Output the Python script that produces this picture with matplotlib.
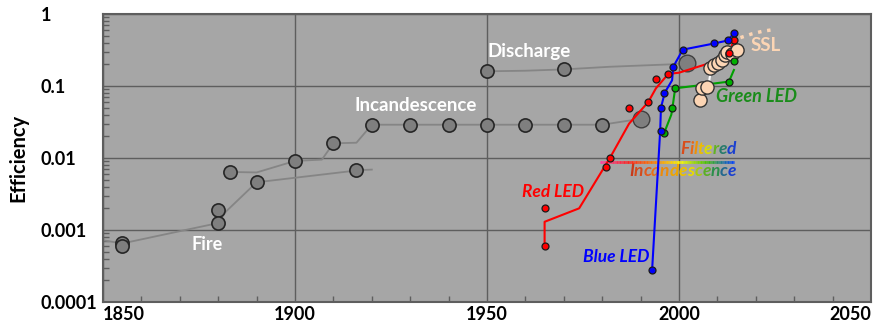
import numpy as np
import matplotlib.pyplot as plt
from matplotlib.colors import LinearSegmentedColormap
from matplotlib.collections import LineCollection
from matplotlib.transforms import IdentityTransform

plt.rcParams['font.family'] = ['Lato', 'DejaVu Sans']
plt.rcParams['font.weight'] = 'bold'

# ---- data ----
# fire / early incandescence (lower trace)
fire_line_x = [1850, 1855, 1880, 1882, 1890, 1917, 1920]
fire_line_y = [0.00072, 0.00065, 0.00125, 0.0018, 0.0046, 0.0068, 0.0069]

# incandescence trace
inc_line_x = [1883, 1890, 1900, 1907, 1910, 1916, 1920, 1930, 1940, 1950, 1960, 1970, 1980, 1990]
inc_line_y = [0.0064, 0.0063, 0.0091, 0.0095, 0.016, 0.0163, 0.029, 0.029, 0.029, 0.029, 0.029, 0.029, 0.029, 0.035]

# discharge trace
dis_line_x = [1950, 1960, 1970, 1982, 1998, 2002]
dis_line_y = [0.16, 0.163, 0.17, 0.185, 0.2, 0.21]

# gray circles (historic lamps)
old_x = [1855, 1855, 1880, 1880, 1883, 1890, 1900, 1910, 1916,
         1920, 1930, 1940, 1950, 1960, 1970, 1980, 1950, 1970]
old_y = [0.00066, 0.0006, 0.0019, 0.00125, 0.0064, 0.0046, 0.0091, 0.016, 0.0068,
         0.029, 0.029, 0.029, 0.029, 0.029, 0.029, 0.029, 0.16, 0.172]
big_x = [1990, 2002]
big_y = [0.035, 0.21]

# red LED
red_pts_x = [1965, 1965, 1981, 1982, 1987, 1992, 1994, 1997.2, 2013, 2014.3]
red_pts_y = [0.0006, 0.002, 0.0074, 0.01, 0.049, 0.06, 0.124, 0.147, 0.29, 0.43]
red_line_x = [1965, 1965, 1974, 1982, 1987, 1992, 1994, 1997.2, 2000, 2007, 2013, 2014.3]
red_line_y = [0.0006, 0.0013, 0.002, 0.01, 0.03, 0.06, 0.093, 0.147, 0.153, 0.2, 0.29, 0.43]

# blue LED
blue_pts_x = [1993, 1995.2, 1995.2, 1996.1, 1998.5, 2001, 2009.2, 2012.8, 2014.3]
blue_pts_y = [0.00028, 0.024, 0.05, 0.081, 0.185, 0.32, 0.39, 0.43, 0.55]
blue_line_x = [1993, 1995.1, 1995.3, 1996.3, 1998.2, 1998.5, 2001, 2009.2, 2012.8, 2014.3]
blue_line_y = [0.00028, 0.024, 0.05, 0.081, 0.12, 0.185, 0.32, 0.39, 0.43, 0.55]

# green LED
green_pts_x = [1996.1, 1998.3, 1999, 2013, 2014.3]
green_pts_y = [0.022, 0.05, 0.093, 0.115, 0.22]
green_line_x = [1996.1, 1998, 1998.3, 1999, 2000.5, 2013, 2014.3]
green_line_y = [0.022, 0.04, 0.05, 0.093, 0.095, 0.115, 0.167]

# solid state lighting
ssl_x = [2005.4, 2006.1, 2007.4, 2008.2, 2009.1, 2010.2, 2011.3, 2012.0, 2012.6, 2013.7, 2015.0]
ssl_y = [0.064, 0.093, 0.098, 0.176, 0.196, 0.21, 0.23, 0.27, 0.30, 0.28, 0.32]
ssl_link_x = [2007.8, 2008.1]
ssl_link_y = [0.112, 0.142]
ssl_proj_x = [2016, 2019, 2022, 2025]
ssl_proj_y = [0.47, 0.53, 0.58, 0.61]

# filtered incandescence
filt_x = [1979.5, 2014.3]
filt_y = [0.0088, 0.0088]

y_ticks = [0.0001, 0.001, 0.01, 0.1, 1]
y_tick_labels = ['0.0001', '0.001', '0.01', '0.1', '1']
x_ticks = [1850, 1900, 1950, 2000, 2050]

# ---- figure ----
fig = plt.figure(figsize=(8.74, 3.24), dpi=100)
ax = fig.add_axes([103 / 874, 22 / 324, 768 / 874, 288 / 324])
ax.set_facecolor('#a6a6a6')
ax.set_yscale('log')
ax.set_xlim(1850, 2050)
ax.set_ylim(1e-4, 1)

ax.grid(True, which='major', color='#5e5e5e', linewidth=1.0)
ax.set_axisbelow(True)
for s in ax.spines.values():
    s.set_color('#5e5e5e')
    s.set_linewidth(1.5)

gray_line = dict(color='#858585', linewidth=1.3, zorder=2)
ax.plot(fire_line_x, fire_line_y, **gray_line)
ax.plot(inc_line_x, inc_line_y, **gray_line)
ax.plot(dis_line_x, dis_line_y, **gray_line)

ax.plot(old_x, old_y, 'o', ms=9.5, mfc='#7f7f7f', mec='#262626', mew=1.2, zorder=3)
ax.plot(big_x, big_y, 'o', ms=12, mfc='#7f7f7f', mec='#404040', mew=1.0, zorder=3)

# filtered incandescence rainbow line
fx = np.linspace(filt_x[0], filt_x[1], 100)
segs = [[(fx[i], filt_y[0]), (fx[i + 1], filt_y[0])] for i in range(len(fx) - 1)]
rainbow = LinearSegmentedColormap.from_list(
    'rb', ['#ff40a0', '#ff2020', '#ff8000', '#ffff00', '#40c000', '#0040ff'])
lc = LineCollection(segs, colors=rainbow(np.linspace(0, 1, len(segs))), linewidth=2, zorder=4)
ax.add_collection(lc)

# LEDs
ax.plot(red_line_x, red_line_y, color='#ff0000', linewidth=1.5, zorder=5)
ax.plot(blue_line_x, blue_line_y, color='#0000ff', linewidth=1.5, zorder=5)
ax.plot(green_line_x, green_line_y, color='#00a000', linewidth=1.5, zorder=5)

ax.plot(ssl_link_x, ssl_link_y, color='white', linewidth=1.5, zorder=5)
ax.plot(ssl_proj_x, ssl_proj_y, ':', color='#fcd5b4', linewidth=2.5, zorder=5)
ax.plot(ssl_x, ssl_y, 'o', ms=9.5, mfc='#fcd5b4', mec='#333333', mew=1.0, zorder=6)

dot = dict(ms=5, mec='#1a1a1a', mew=0.9, linestyle='none', zorder=7)
ax.plot(red_pts_x, red_pts_y, 'o', mfc='#ff0000', **dot)
ax.plot(green_pts_x, green_pts_y, 'o', mfc='#00b000', **dot)
ax.plot(blue_pts_x, blue_pts_y, 'o', mfc='#0000ff', **dot)

# ---- axes ticks ----
ax.set_yticks(y_ticks)
ax.set_yticklabels(y_tick_labels)
ax.set_xticks(x_ticks)
ax.set_xticklabels([str(v) for v in x_ticks])
ax.set_xticks(np.arange(1860, 2050, 10), minor=True)
ax.tick_params(axis='both', which='major', length=0, labelsize=13, colors='black')
ax.tick_params(axis='y', which='major', pad=45)
ax.tick_params(axis='x', which='major', pad=3)
ax.tick_params(which='minor', direction='in', length=4, color='#5e5e5e', width=1)
ax.yaxis.set_minor_formatter(plt.NullFormatter())
for lab in ax.get_yticklabels():
    lab.set_horizontalalignment('left')
xl = ax.get_xticklabels()
xl[0].set_horizontalalignment('left')
xl[-1].set_horizontalalignment('right')

ax.set_ylabel('Efficiency', fontsize=14.5, fontweight='bold')
ax.yaxis.set_label_coords(-0.097, 0.5)

# ---- annotations ----
ax.text(1877, 0.00063, 'Fire', color='white', fontsize=13, ha='center', va='center')
ax.text(1931.5, 0.054, 'Incandescence', color='white', fontsize=13.5, ha='center', va='center')
ax.text(1961, 0.3, 'Discharge', color='white', fontsize=13.5, ha='center', va='center')
ax.text(2022.5, 0.36, 'SSL', color='#fcd5b4', fontsize=13.5, ha='center', va='center')
ax.text(2020.3, 0.071, 'Green LED', color='#1a8c1a', fontsize=13, style='italic', ha='center', va='center')
ax.text(1967.2, 0.0034, 'Red LED', color='#ff0000', fontsize=12.5, style='italic', ha='center', va='center')
ax.text(1983.6, 0.00042, 'Blue LED', color='#0000ff', fontsize=12.5, style='italic', ha='center', va='center')

# rainbow coloured words, one letter at a time
fig.canvas.draw()
rend = fig.canvas.get_renderer()
word_cmap = LinearSegmentedColormap.from_list(
    'wc', ['#c83a1a', '#e8601c', '#f0a000', '#e8e000', '#30a030', '#1a40d0'])


def rainbow_word(word, x0, y0, t0):
    x = x0
    for ch, t in zip(word, np.linspace(t0, 1, len(word))):
        txt = ax.text(x, y0, ch, transform=IdentityTransform(), color=word_cmap(t),
                      fontsize=12.5, style='italic', fontweight='bold', va='center', ha='left')
        x += txt.get_window_extent(rend).width


rainbow_word('Filtered', 680, 324 - 149, 0.1)
rainbow_word('Incandescence', 629, 324 - 171, 0.0)

fig.savefig('out.png', dpi=100)
